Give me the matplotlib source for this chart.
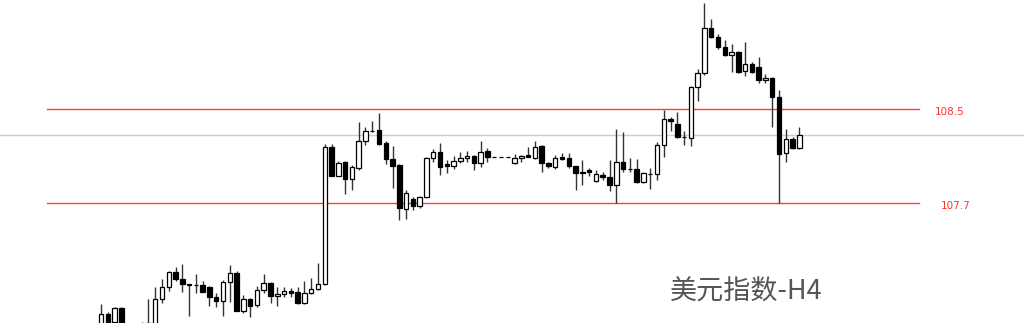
import numpy as np
import matplotlib
matplotlib.use("Agg")
import matplotlib.pyplot as plt
import matplotlib.transforms as mtransforms

# H4 candles (open, high, low, close)
opens = [106.636, 106.753, 106.688, 106.804, 106.650, 106.580, 106.620, 106.630, 106.660, 106.881,
         106.983, 107.110, 107.053, 107.008, 107.005, 107.002, 106.988, 106.903, 106.869, 107.030,
         107.107, 106.781, 106.881, 106.832, 106.960, 107.022, 106.909, 106.923, 106.954, 106.940,
         106.847, 106.932, 106.966, 107.011, 108.179, 107.933, 108.047, 107.902, 107.996, 108.228,
         108.309, 108.322, 108.213, 108.075, 108.024, 107.647, 107.732, 107.677, 107.749, 108.081,
         108.137, 108.030, 108.018, 108.058, 108.081, 108.100, 108.038, 108.139, 108.093, 108.093,
         108.093, 108.038, 108.081, 108.109, 108.086, 108.185, 108.038, 108.009, 108.094, 108.086,
         108.015, 107.962, 107.981, 107.890, 107.939, 107.919, 107.854, 108.047, 107.992, 107.990,
         107.876, 107.945, 107.945, 108.194, 108.415, 108.373, 108.262, 108.256, 108.690, 108.804,
         109.187, 109.111, 109.025, 108.960, 108.988, 108.826, 108.881, 108.860, 108.747, 108.764,
         108.605, 108.123, 108.242, 108.171]
highs = [106.838, 106.775, 106.815, 106.818, 106.665, 106.650, 106.690, 106.881, 106.983, 107.051,
         107.122, 107.153, 107.181, 107.011, 107.093, 107.036, 106.998, 106.932, 107.045, 107.173,
         107.122, 106.917, 106.888, 106.996, 107.093, 107.028, 106.983, 106.983, 106.974, 106.983,
         107.036, 107.059, 107.192, 108.200, 108.200, 108.058, 108.058, 108.024, 108.392, 108.350,
         108.398, 108.464, 108.228, 108.185, 108.032, 107.811, 107.754, 107.760, 108.094, 108.157,
         108.208, 108.066, 108.103, 108.137, 108.143, 108.109, 108.231, 108.168, 108.093, 108.093,
         108.093, 108.115, 108.109, 108.179, 108.228, 108.194, 108.052, 108.109, 108.123, 108.123,
         108.019, 108.066, 107.996, 107.981, 107.967, 108.066, 108.330, 108.302, 108.081, 108.072,
         107.964, 108.001, 108.222, 108.492, 108.430, 108.472, 108.313, 108.696, 108.841, 109.405,
         109.264, 109.136, 109.088, 109.054, 108.994, 109.073, 108.903, 108.945, 108.796, 108.773,
         108.662, 108.330, 108.259, 108.344]
lows = [106.602, 106.619, 106.653, 106.636, 106.570, 106.550, 106.600, 106.600, 106.640, 106.847,
        106.951, 107.039, 106.945, 106.739, 106.932, 106.939, 106.826, 106.813, 106.739, 106.860,
        106.777, 106.762, 106.733, 106.813, 106.932, 106.852, 106.824, 106.903, 106.903, 106.841,
        106.841, 106.926, 106.960, 107.002, 107.926, 107.926, 107.774, 107.811, 107.981, 108.194,
        108.305, 108.198, 108.032, 107.830, 107.556, 107.561, 107.641, 107.660, 107.743, 108.052,
        107.939, 107.953, 107.987, 108.038, 108.052, 107.981, 108.009, 108.047, 108.093, 108.093,
        108.093, 108.036, 108.052, 108.088, 108.079, 107.967, 107.996, 107.990, 108.066, 107.996,
        107.811, 107.854, 107.930, 107.882, 107.896, 107.802, 107.698, 107.967, 107.967, 107.871,
        107.871, 107.817, 107.896, 108.089, 108.316, 108.253, 108.194, 108.188, 108.571, 108.790,
        109.105, 109.008, 108.951, 108.818, 108.804, 108.781, 108.804, 108.719, 108.724, 108.344,
        107.703, 108.052, 108.160, 108.164]
closes = [106.753, 106.653, 106.809, 106.662, 106.590, 106.630, 106.660, 106.675, 106.881, 106.988,
          107.110, 107.051, 107.008, 107.004, 107.000, 106.945, 106.903, 106.869, 107.030, 107.107,
          106.784, 106.881, 106.826, 106.960, 107.017, 106.909, 106.926, 106.954, 106.932, 106.847,
          106.932, 106.966, 107.011, 108.174, 107.933, 108.038, 107.905, 108.009, 108.228, 108.316,
          108.315, 108.202, 108.072, 108.018, 107.660, 107.783, 107.677, 107.754, 108.081, 108.132,
          108.004, 108.015, 108.060, 108.081, 108.100, 108.038, 108.137, 108.092, 108.093, 108.093,
          108.093, 108.086, 108.103, 108.094, 108.179, 108.038, 108.018, 108.086, 108.072, 108.015,
          107.953, 107.956, 107.968, 107.945, 107.919, 107.854, 108.047, 107.990, 107.987, 107.876,
          107.958, 107.950, 108.194, 108.413, 108.398, 108.258, 108.258, 108.690, 108.804, 109.187,
          109.111, 109.031, 108.960, 108.988, 108.818, 108.883, 108.813, 108.747, 108.762, 108.602,
          108.117, 108.242, 108.166, 108.279]

levels = [108.5, 107.7]
level_labels = ["108.5", "107.7"]
title = "美元指数-H4"

fig = plt.figure(figsize=(10.24, 3.23), dpi=100)
ax = fig.add_axes([0, 0, 1, 1])
ax.set_axis_off()

x = np.arange(len(opens))
o = np.array(opens)
h = np.array(highs)
l = np.array(lows)
c = np.array(closes)

up = c >= o
body_lo = np.minimum(o, c)
body_h = np.abs(c - o)

# wicks then bodies
ax.vlines(x, l, h, color="#333333", linewidth=1.0, zorder=2)
ax.bar(x[up], body_h[up], bottom=body_lo[up], width=0.66,
       color="white", edgecolor="black", linewidth=0.9, zorder=3)
ax.bar(x[~up], body_h[~up], bottom=body_lo[~up], width=0.66,
       color="black", edgecolor="black", linewidth=0.9, zorder=3)

# last price line
ax.axhline(closes[-1], color="#cccccc", linewidth=1.0, zorder=1)

# support / resistance lines
trans = mtransforms.blended_transform_factory(ax.transAxes, ax.transData)
for lv, lab, lx in zip(levels, level_labels, [0.913, 0.919]):
    ax.axhline(lv, xmin=0.046, xmax=0.897, color="#ff3b3b", linewidth=1.0, zorder=1)
    ax.text(lx, lv - 0.025, lab, transform=trans, color="#ff3030",
            fontsize=7.5, va="center", ha="left", family=["DejaVu Sans"])

ax.text(0.654, 0.096, title, transform=ax.transAxes, fontsize=19.5, color="#555555",
        va="center", ha="left", family=["Noto Sans CJK SC", "DejaVu Sans"])

# 6.78 px per candle, first candle at x=101 px
step = 6.78
ax.set_xlim(-101 / step, (1024 - 101) / step)
ax.set_ylim(106.679, 109.428)

fig.savefig("out.png", dpi=100, facecolor="white")
